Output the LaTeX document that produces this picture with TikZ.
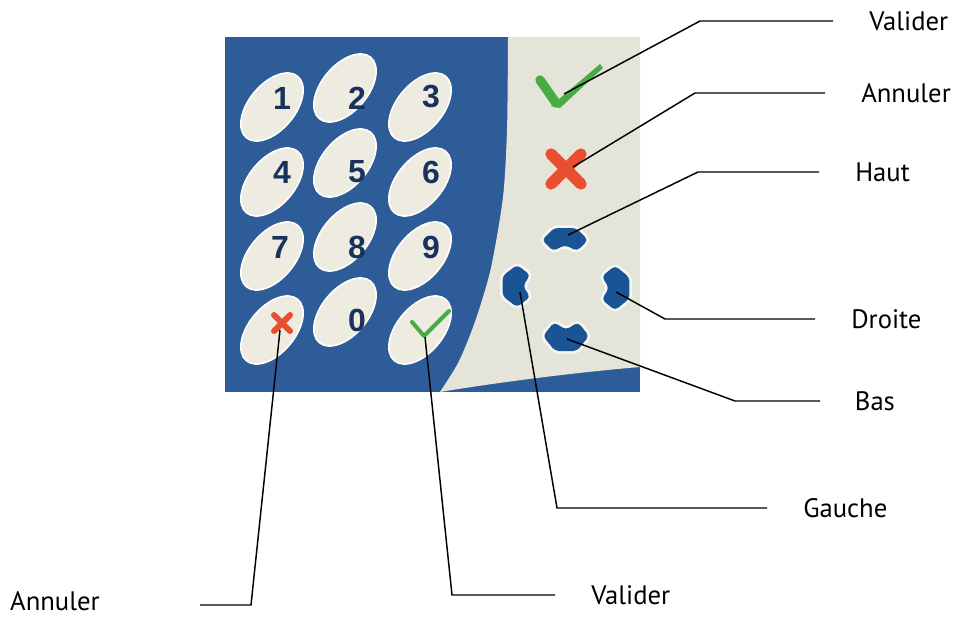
\documentclass[tikz,border=0pt]{standalone}
\usepackage{fontspec}
\setmainfont{PT Sans}
\newfontfamily\keyfont{Liberation Sans}
\usetikzlibrary{positioning}

\definecolor{padblue}{RGB}{45,92,152}
\definecolor{panel}{RGB}{228,229,216}
\definecolor{keycream}{RGB}{238,236,224}
\definecolor{digitblue}{RGB}{24,50,92}
\definecolor{navblue}{RGB}{26,84,148}
\definecolor{okgreen}{RGB}{72,172,68}
\definecolor{nored}{RGB}{234,78,48}

\tikzset{navkey/.pic={
    \draw[white, line width=4pt, opacity=.7, rounded corners=3]
      (-23,0) -- (-11,-12) -- (11,-12) -- (23,0) -- (12,11) -- (0,5) -- (-12,11) -- cycle;
    \fill[navblue, rounded corners=3]
      (-23,0) -- (-11,-12) -- (11,-12) -- (23,0) -- (12,11) -- (0,5) -- (-12,11) -- cycle;
}}

\begin{document}
\begin{tikzpicture}[x=0.75pt,y=-0.75pt]
      \tikzstyle{every node}+=[inner sep=0pt]
      \tikzstyle{lead}=[black, line width=1.1pt]
      \tikzstyle{lbl}=[font=\fontsize{20}{22}\selectfont]
      \tikzstyle{key}=[fill=keycream, draw=white, line width=1.2pt]
      \tikzstyle{digit}=[text=digitblue, font=\keyfont\bfseries\fontsize{24}{24}\selectfont]
      \useasboundingbox (0,0) rectangle (956,617);

      % the keypad
      \begin{scope}
      \clip (225,37) rectangle (640,392);
      \fill [padblue] (225,37) rectangle (640,392);
      \fill [panel] plot [smooth] coordinates {(440,392) (458,363) (472,330) (483,297) (492,263) (503,197) (507,130) (508,37)}
        -- (640,37) -- (640,367) .. controls (580,372) and (500,382) .. (440,392) -- cycle;

      \path [key] (272,107) circle [x radius=40, y radius=23, rotate=50];
      \path [key] (345,88) circle [x radius=40, y radius=23, rotate=50];
      \path [key] (420,107) circle [x radius=40, y radius=23, rotate=50];
      \path [key] (272,182) circle [x radius=40, y radius=23, rotate=50];
      \path [key] (345,163) circle [x radius=40, y radius=23, rotate=50];
      \path [key] (420,182) circle [x radius=40, y radius=23, rotate=50];
      \path [key] (272,256) circle [x radius=40, y radius=23, rotate=50];
      \path [key] (345,237) circle [x radius=40, y radius=23, rotate=50];
      \path [key] (420,256) circle [x radius=40, y radius=23, rotate=50];
      \path [key] (272,330) circle [x radius=40, y radius=23, rotate=50];
      \path [key] (345,312) circle [x radius=40, y radius=23, rotate=50];
      \path [key] (420,330) circle [x radius=40, y radius=23, rotate=50];

      \node [digit] (d1) at (282,98) {1};
      \node [digit] (d2) at (357,98) {2};
      \node [digit] (d3) at (431,97) {3};
      \node [digit] (d4) at (282,172) {4};
      \node [digit] (d5) at (357,172) {5};
      \node [digit] (d6) at (431,172) {6};
      \node [digit] (d7) at (280,247) {7};
      \node [digit] (d8) at (357,247) {8};
      \node [digit] (d9) at (431,247) {9};
      \node [digit] (d0) at (357,320) {0};

      % small cancel / enter marks on the keypad
      \draw [nored, line width=4.5pt, line cap=round] (274,315) -- (290,331) (290,315) -- (274,331);
      \draw [okgreen, line width=3pt, line cap=round, line join=round] (412,322) -- (424,336) -- (449,311);

      % side buttons
      \draw [okgreen, line width=7pt, line cap=round, line join=round] (540,80) -- (556,103);
      \fill [okgreen] (551,106) -- (560,108) -- (603,68) -- (600,64) -- cycle;
      \draw [nored, line width=8.5pt, line cap=round] (551,154) -- (581,184) (581,154) -- (551,184);

      \pic at (565,240) {navkey};
      \pic [rotate=180, yscale=1.25] at (566,336) {navkey};
      \pic [rotate=90, xscale=0.92, yscale=1.2] at (517,286) {navkey};
      \pic [rotate=-90, xscale=0.97, yscale=1.2] at (615,288) {navkey};
      \end{scope}

      \coordinate (okR) at (564,94);
      \coordinate (noR) at (573,167);
      \coordinate (up) at (568,235);
      \coordinate (right) at (616,292);
      \coordinate (down) at (567,339);
      \coordinate (left) at (520,292);
      \coordinate (okK) at (425,337);
      \coordinate (noK) at (280,330);

      \coordinate (okRbend) at (700,21);
      \coordinate (okRend) at (833,21);
      \coordinate (noRbend) at (695,93);
      \coordinate (noRend) at (825,93);
      \coordinate (upbend) at (698,172);
      \coordinate (upend) at (819,172);
      \coordinate (rightbend) at (665,319);
      \coordinate (rightend) at (815,319);
      \coordinate (downbend) at (735,401);
      \coordinate (downend) at (820,401);
      \coordinate (leftbend) at (557,508);
      \coordinate (leftend) at (767,508);
      \coordinate (okKbend) at (452,595);
      \coordinate (okKend) at (555,595);
      \coordinate (noKbend) at (251,605);
      \coordinate (noKend) at (200,605);

      \node [lbl, right=27pt of okRend] (okRlbl) {Valider};
      \node [lbl, right=27pt of noRend] (noRlbl) {Annuler};
      \node [lbl, right=27pt of upend] (uplbl) {Haut};
      \node [lbl, right=27pt of rightend] (rightlbl) {Droite};
      \node [lbl, right=26pt of downend] (downlbl) {Bas};
      \node [lbl, right=27pt of leftend] (leftlbl) {Gauche};
      \node [lbl, right=27pt of okKend] (okKlbl) {Valider};
      \node [lbl, left=75pt of noKend, yshift=3pt] (noKlbl) {Annuler};

      \draw [lead] (okR) -- (okRbend) -- (okRend);
      \draw [lead] (noR) -- (noRbend) -- (noRend);
      \draw [lead] (up) -- (upbend) -- (upend);
      \draw [lead] (right) -- (rightbend) -- (rightend);
      \draw [lead] (down) -- (downbend) -- (downend);
      \draw [lead] (left) -- (leftbend) -- (leftend);
      \draw [lead] (okK) -- (okKbend) -- (okKend);
      \draw [lead] (noK) -- (noKbend) -- (noKend);
\end{tikzpicture}
\end{document}
